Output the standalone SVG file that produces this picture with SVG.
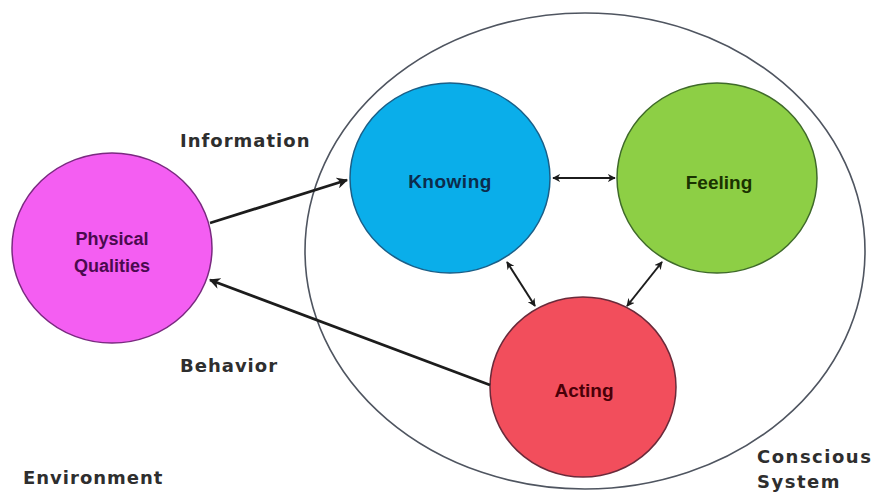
<svg xmlns="http://www.w3.org/2000/svg" width="877" height="502" viewBox="0 0 877 502">
  <style>
    .label { font-family: "DejaVu Sans", sans-serif; font-weight: bold; font-size: 18px; fill: #2e2e2e; letter-spacing: 1px; }
    .node-text { font-family: "Liberation Sans", Arial, sans-serif; font-weight: bold; text-anchor: middle; }
    .link { fill: none; stroke: #1c1c1c; }
  </style>
  <defs>
    <marker id="head" viewBox="0 0 10 10" refX="9" refY="5" markerWidth="4" markerHeight="4" orient="auto-start-reverse" markerUnits="strokeWidth">
      <path d="M0,0 L10,5 L0,10 L3,5 Z" fill="#1c1c1c"/>
    </marker>
  </defs>

  <rect width="877" height="502" fill="#ffffff"/>

  <!-- Conscious system boundary -->
  <g id="conscious-system">
    <ellipse cx="585" cy="251" rx="280" ry="238" fill="none" stroke="#4f5560" stroke-width="1.6"/>
    <text class="label" x="757" y="463" style="letter-spacing:1.5px">Conscious</text>
    <text class="label" x="757" y="488" style="letter-spacing:1.5px">System</text>
  </g>

  <g id="physical-qualities">
    <ellipse cx="112" cy="248" rx="100" ry="95" fill="#f45ef2" stroke="#7a2a80" stroke-width="1.5"/>
    <text class="node-text" x="112" y="245" font-size="18" fill="#4a0a4e">Physical</text>
    <text class="node-text" x="112" y="272" font-size="18" fill="#4a0a4e">Qualities</text>
  </g>

  <g id="knowing">
    <ellipse cx="450" cy="178" rx="100" ry="95" fill="#0aaeea" stroke="#1a5f88" stroke-width="1.5"/>
    <text class="node-text" x="450" y="188" font-size="19" fill="#0c2c4c" letter-spacing="0.5">Knowing</text>
  </g>

  <g id="feeling">
    <ellipse cx="717" cy="178" rx="100" ry="95" fill="#8dcf45" stroke="#3f6a2a" stroke-width="1.5"/>
    <text class="node-text" x="719" y="189" font-size="19" fill="#1a3300">Feeling</text>
  </g>

  <g id="acting">
    <ellipse cx="583" cy="387" rx="93" ry="90" fill="#f24e5c" stroke="#6a2a3a" stroke-width="1.5"/>
    <text class="node-text" x="584" y="397" font-size="19" fill="#4a0008">Acting</text>
  </g>

  <g id="environment">
    <text class="label" x="23" y="484">Environment</text>
  </g>

  <!-- Connectors -->
  <g id="connectors">
    <line class="link" x1="210" y1="223" x2="347" y2="180" stroke-width="2.8" marker-end="url(#head)"/>
    <line class="link" x1="490" y1="385" x2="210" y2="280" stroke-width="2.8" marker-end="url(#head)"/>
    <line class="link" x1="553" y1="178" x2="615" y2="178" stroke-width="2" marker-start="url(#head)" marker-end="url(#head)"/>
    <line class="link" x1="507" y1="262" x2="535" y2="306" stroke-width="2" marker-start="url(#head)" marker-end="url(#head)"/>
    <line class="link" x1="662" y1="262" x2="627" y2="306" stroke-width="2" marker-start="url(#head)" marker-end="url(#head)"/>
    <text class="label" x="180" y="147">Information</text>
    <text class="label" x="180" y="372">Behavior</text>
  </g>
</svg>
